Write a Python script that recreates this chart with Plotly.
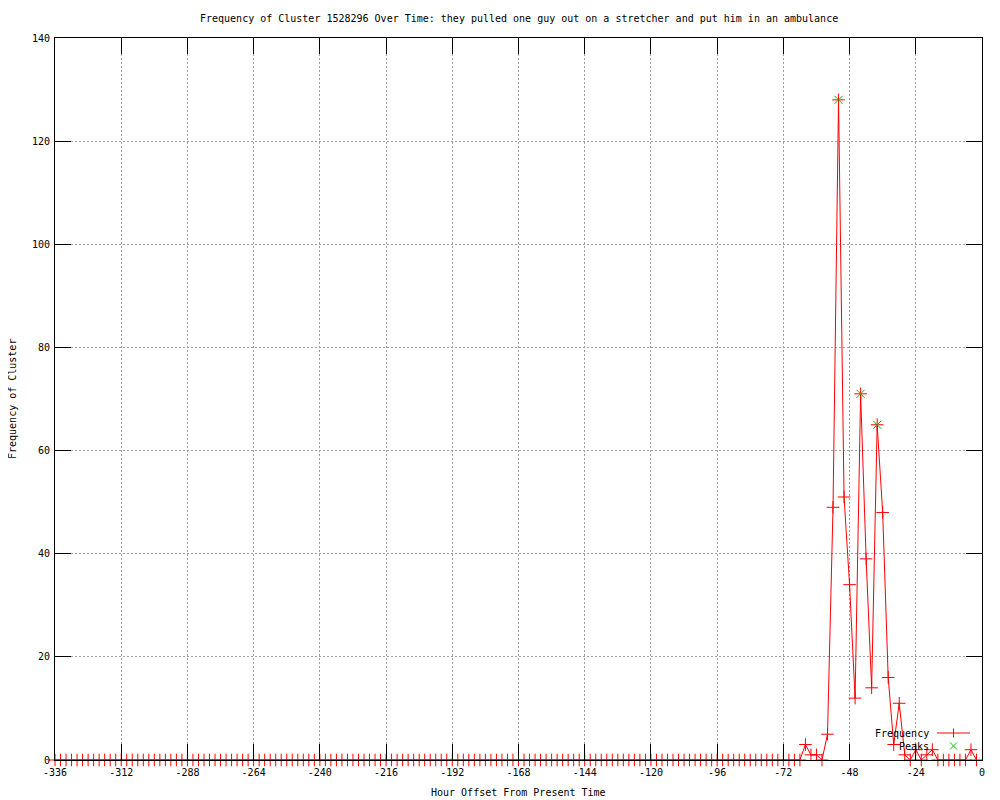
import plotly.graph_objects as go

# ---- data ----
hours = list(range(-336, 0, 2))  # -336 ... -2, every 2 hours
frequency = [
    0, 0, 0, 0, 0, 0, 0, 0, 0, 0, 0, 0, 0, 0, 0, 0, 0, 0, 0, 0,
    0, 0, 0, 0, 0, 0, 0, 0, 0, 0, 0, 0, 0, 0, 0, 0, 0, 0, 0, 0,
    0, 0, 0, 0, 0, 0, 0, 0, 0, 0, 0, 0, 0, 0, 0, 0, 0, 0, 0, 0,
    0, 0, 0, 0, 0, 0, 0, 0, 0, 0, 0, 0, 0, 0, 0, 0, 0, 0, 0, 0,
    0, 0, 0, 0, 0, 0, 0, 0, 0, 0, 0, 0, 0, 0, 0, 0, 0, 0, 0, 0,
    0, 0, 0, 0, 0, 0, 0, 0, 0, 0, 0, 0, 0, 0, 0, 0, 0, 0, 0, 0,
    0, 0, 0, 0, 0, 0, 0, 0, 0, 0, 0, 0, 0, 0, 0, 0,
    3, 1, 1, 0, 5, 49, 128, 51, 34, 12,
    71, 39, 14, 65, 48, 16, 3, 11, 1, 0,
    2, 0, 1, 2, 0, 0, 0, 0, 0, 0,
    2, 0,
]
peak_hours = [-52, -44, -38]
peak_values = [128, 71, 65]

x_ticks = list(range(-336, 1, 24))
x_tick_text = [str(v) for v in x_ticks]
y_ticks = list(range(0, 141, 20))

title_text = ("Frequency of Cluster 1528296 Over Time: they pulled one guy out "
              "on a stretcher and put him in an ambulance")

FONT = "DejaVu Sans Mono"
RED = "#FF0000"
GREEN = "#00C000"

fig = go.Figure()
fig.add_trace(go.Scatter(
    x=hours, y=frequency, mode="lines+markers", name="Frequency",
    line=dict(color=RED, width=1),
    marker=dict(symbol="cross-thin", size=9, line=dict(color=RED, width=1), color=RED),
    cliponaxis=False, showlegend=False,
))
fig.add_trace(go.Scatter(
    x=peak_hours, y=peak_values, mode="markers", name="Peaks",
    marker=dict(symbol="x-thin", size=8, line=dict(color=GREEN, width=1), color=GREEN),
    cliponaxis=False, showlegend=False,
))

# page has an 8px body margin; figure is sized so plot area lands at
# x 55..982, y 38..760 of the 1000x800 window
L, R, T, B = 47, 18, 30, 40
FIG_W, FIG_H = 992, 792
PL, PT = 55, 38            # screen position of plot area top-left
PW = FIG_W - L - R         # 927
PH = FIG_H - T - B         # 722

def px_x(p):
    return (p - PL) / PW

def px_y(p):
    return (PT + PH - p) / PH

# custom gnuplot-like key
shapes = [
    dict(type="line", xref="paper", yref="paper", x0=px_x(937), x1=px_x(970),
         y0=px_y(733), y1=px_y(733), line=dict(color=RED, width=1)),
    dict(type="line", xref="paper", yref="paper", x0=px_x(953.5), x1=px_x(953.5),
         y0=px_y(728.5), y1=px_y(737.5), line=dict(color=RED, width=1)),
    dict(type="line", xref="paper", yref="paper", x0=px_x(950), x1=px_x(957),
         y0=px_y(742.5), y1=px_y(749.5), line=dict(color=GREEN, width=1)),
    dict(type="line", xref="paper", yref="paper", x0=px_x(950), x1=px_x(957),
         y0=px_y(749.5), y1=px_y(742.5), line=dict(color=GREEN, width=1)),
]

annotations = [
    dict(text="Frequency", xref="paper", yref="paper", x=px_x(931), y=px_y(733),
         xanchor="right", yanchor="middle", showarrow=False,
         font=dict(family=FONT, size=10, color="black")),
    dict(text="Peaks", xref="paper", yref="paper", x=px_x(931), y=px_y(746),
         xanchor="right", yanchor="middle", showarrow=False,
         font=dict(family=FONT, size=10, color="black")),
    dict(text="Hour Offset From Present Time", xref="paper", yref="paper",
         x=0.5, y=px_y(793), xanchor="center", yanchor="middle", showarrow=False,
         font=dict(family=FONT, size=10, color="black")),
    dict(text="Frequency of Cluster", xref="paper", yref="paper",
         x=px_x(12), y=0.5, xanchor="center", yanchor="middle", showarrow=False,
         textangle=-90, font=dict(family=FONT, size=10, color="black")),
    dict(text=title_text, xref="paper", yref="paper",
         x=0.5, y=px_y(18), xanchor="center", yanchor="middle", showarrow=False,
         font=dict(family=FONT, size=10, color="black")),
]

axis_common = dict(
    showline=True, linecolor="black", linewidth=1, mirror="ticks",
    ticks="inside", ticklen=16, tickwidth=1, tickcolor="black",
    showgrid=True, gridcolor="#A0A0A0", griddash="2px,2px", gridwidth=1,
    zeroline=False, layer="above traces",
    tickfont=dict(family=FONT, size=10, color="black"),
)

fig.update_layout(
    width=FIG_W, height=FIG_H,
    margin=dict(l=L, r=R, t=T, b=B, pad=0),
    paper_bgcolor="white", plot_bgcolor="white",
    showlegend=False,
    shapes=shapes, annotations=annotations,
    xaxis=dict(range=[-336, 0], tickmode="array", tickvals=x_ticks,
               ticktext=x_tick_text, ticklabelstandoff=3, **axis_common),
    yaxis=dict(range=[0, 140], tickmode="array", tickvals=y_ticks,
               ticklabelstandoff=2, **axis_common),
)

fig.write_html("out.html")
